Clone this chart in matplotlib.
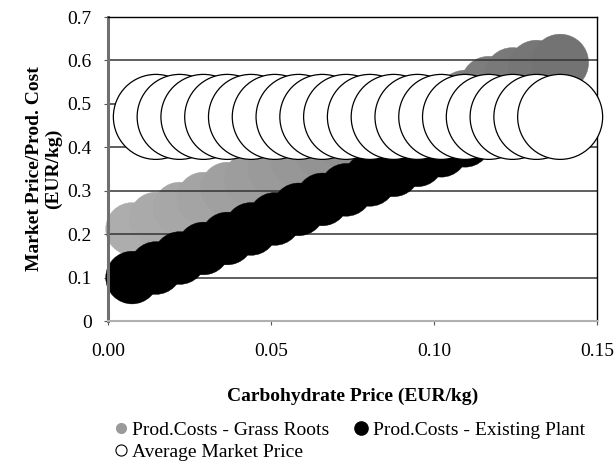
import matplotlib
matplotlib.use("Agg")
import matplotlib.pyplot as plt
from matplotlib.lines import Line2D
import numpy as np

# ---------------- data ----------------
x_costs = [0.0073, 0.0146, 0.0219, 0.0292, 0.0365, 0.0438, 0.0511, 0.0584, 0.0657, 0.0730,
           0.0803, 0.0876, 0.0949, 0.1022, 0.1095, 0.1168, 0.1241, 0.1314, 0.1387]
grass_roots = [0.212, 0.236, 0.259, 0.282, 0.305, 0.327, 0.349, 0.370, 0.391, 0.412,
               0.433, 0.453, 0.473, 0.493, 0.513, 0.545, 0.565, 0.582, 0.595]
grass_size = [0.62, 0.62, 0.62, 0.62, 0.62, 0.63, 0.63, 0.64, 0.64, 0.65,
              0.65, 0.66, 0.66, 0.66, 0.66, 0.66, 0.66, 0.66, 0.67]
existing_plant = [0.100, 0.122, 0.145, 0.167, 0.190, 0.212, 0.235, 0.257, 0.280, 0.302,
                  0.325, 0.347, 0.370, 0.392, 0.415, 0.437, 0.460, 0.482, 0.505]
existing_size = [0.62] * 19

x_market = [0.0146, 0.0219, 0.0292, 0.0365, 0.0438, 0.0511, 0.0584, 0.0657, 0.0730,
            0.0803, 0.0876, 0.0949, 0.1022, 0.1095, 0.1168, 0.1241, 0.1314, 0.1387]
market_price = [0.47, 0.47, 0.47, 0.47, 0.47, 0.47, 0.47, 0.47, 0.47,
                0.47, 0.47, 0.47, 0.47, 0.47, 0.47, 0.47, 0.47, 0.47]
market_size = [1.0] * 18

series_labels = ["Prod.Costs - Grass Roots", "Prod.Costs - Existing Plant", "Average Market Price"]
x_ticks = [0.00, 0.05, 0.10, 0.15]
x_ticklabels = ["0.00", "0.05", "0.10", "0.15"]
y_ticks = [0, 0.1, 0.2, 0.3, 0.4, 0.5, 0.6, 0.7]
y_ticklabels = ["0", "0.1", "0.2", "0.3", "0.4", "0.5", "0.6", "0.7"]
x_label = "Carbohydrate Price (EUR/kg)"
y_label = "Market Price/Prod. Cost\n(EUR/kg)"

# ---------------- style ----------------
plt.rcParams['font.family'] = ['Liberation Serif', 'DejaVu Serif']
plt.rcParams['hatch.color'] = '#4a4a4a'
plt.rcParams['hatch.linewidth'] = 0.6
DPI = 100
MAX_DIAM_PX = 85.0

def area(sizes):
    d_pt = np.asarray(sizes) * MAX_DIAM_PX * 72.0 / DPI
    return d_pt ** 2

fig = plt.figure(figsize=(6.16, 4.75), dpi=DPI)
ax = fig.add_axes([0.1758, 0.3242, 0.7933, 0.6400])

ax.set_xlim(0, 0.15)
ax.set_ylim(0, 0.7)

# gridlines
for yv in y_ticks[1:-1]:
    ax.axhline(yv, color='#333333', lw=1.1, zorder=1.5)

n = len(x_costs)
gray_cols = [str(v) for v in np.linspace(0.68, 0.45, n)]
ax.scatter(x_costs, grass_roots, s=area(grass_size), c=gray_cols, edgecolors='face',
           linewidths=0.3, zorder=1, clip_on=False)
ax.scatter(x_costs, grass_roots, s=area(grass_size), facecolors='none', edgecolors='none',
           linewidths=0, hatch='....', zorder=1.2, clip_on=False)
ax.scatter(x_costs, existing_plant, s=area(existing_size), c='black', edgecolors='black',
           linewidths=0.3, zorder=2, clip_on=False)
ax.scatter(x_market, market_price, s=area(market_size), facecolors='white',
           edgecolors='black', linewidths=0.9, zorder=3, clip_on=False)

ax.set_xticks(x_ticks)
ax.set_xticklabels(x_ticklabels)
ax.set_yticks(y_ticks)
ax.set_yticklabels(y_ticklabels)
ax.tick_params(axis='both', direction='out', length=3, width=0.8, labelsize=14, color='#555555')
ax.tick_params(axis='x', pad=13)
ax.tick_params(axis='y', pad=9)

ax.set_xlabel(x_label, fontsize=14, fontweight='bold', labelpad=20)
ax.set_ylabel(y_label, fontsize=14, fontweight='bold', labelpad=4, linespacing=1.1)

ax.spines['left'].set_color('#707070')
ax.spines['left'].set_linewidth(2.2)
ax.spines['bottom'].set_color('#b0b0b0')
ax.spines['bottom'].set_linewidth(1.5)
ax.spines['top'].set_color('black')
ax.spines['top'].set_linewidth(1.0)
ax.spines['right'].set_color('black')
ax.spines['right'].set_linewidth(1.0)

handles = [
    Line2D([], [], ls='', marker='o', markersize=7, markerfacecolor='#9a9a9a', markeredgecolor='#9a9a9a'),
    Line2D([], [], ls='', marker='o', markersize=8, markerfacecolor='white', markeredgecolor='black', markeredgewidth=0.8),
    Line2D([], [], ls='', marker='o', markersize=9.5, markerfacecolor='black', markeredgecolor='black'),
]
labels = [series_labels[0], series_labels[2], series_labels[1]]
fig.legend(handles, labels, ncol=2, loc='upper left', bbox_to_anchor=(115 / 616, 1 - 421 / 475),
           frameon=False, fontsize=14, handlelength=0.6, handletextpad=0.3,
           columnspacing=1.3, labelspacing=0.25, borderaxespad=0, borderpad=0)

fig.savefig("out.png", dpi=DPI)
